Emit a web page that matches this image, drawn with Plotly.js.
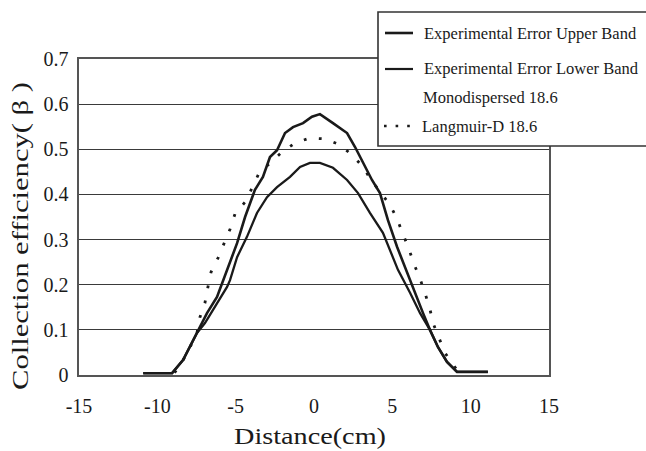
<!DOCTYPE html>
<html>
<head>
<meta charset="utf-8">
<script src="https://cdn.plot.ly/plotly-3.0.1.min.js"></script>
<style>
  html, body { margin: 0; padding: 0; background: #fff; }
  #chart { width: 646px; height: 451px; }
</style>
</head>
<body>
<div id="chart"></div>
<script>
// Collection efficiency across the collector (distance in cm)
const upperX = [-10.9, -9.06, -8.36, -7.47, -6.83, -6.19, -5.55, -4.91, -4.40, -3.77, -3.26, -2.81, -2.36, -1.85, -1.34, -0.70, -0.13, 0.38, 1.21, 2.11, 2.62, 3.13, 3.70, 4.21, 4.72, 5.30, 5.94, 6.45, 6.96, 7.40, 7.91, 8.49, 9.13, 11.1];
const upperY = [0.004, 0.004, 0.033, 0.093, 0.137, 0.173, 0.233, 0.292, 0.350, 0.410, 0.439, 0.483, 0.498, 0.536, 0.549, 0.558, 0.572, 0.578, 0.558, 0.536, 0.505, 0.470, 0.432, 0.403, 0.343, 0.284, 0.226, 0.182, 0.137, 0.100, 0.062, 0.029, 0.007, 0.007];

const lowerX = [-10.9, -9.06, -8.36, -7.47, -6.96, -6.32, -5.55, -5.36, -4.91, -4.28, -3.64, -3.00, -2.36, -1.53, -0.89, -0.26, 0.38, 1.21, 2.11, 2.81, 3.57, 4.40, 4.85, 5.36, 6.13, 6.77, 7.40, 7.91, 8.49, 9.13, 11.1];
const lowerY = [0.004, 0.004, 0.033, 0.093, 0.115, 0.151, 0.195, 0.210, 0.261, 0.306, 0.359, 0.394, 0.416, 0.439, 0.461, 0.470, 0.470, 0.459, 0.432, 0.403, 0.359, 0.315, 0.277, 0.233, 0.182, 0.137, 0.100, 0.062, 0.029, 0.007, 0.007];

const langX = [-8.9, -8.4, -7.91, -7.47, -7.28, -6.96, -6.77, -6.57, -6.13, -5.74, -5.36, -5.04, -4.40, -3.96, -3.51, -2.04, -1.21, -0.26, 0.70, 1.66, 2.43, 3.13, 3.64, 4.85, 5.30, 5.68, 6.06, 6.38, 6.77, 7.08, 7.40, 7.60, 7.98, 8.36, 8.94, 9.2];
const langY = [0.005, 0.030, 0.062, 0.093, 0.128, 0.160, 0.195, 0.228, 0.259, 0.292, 0.323, 0.357, 0.383, 0.414, 0.447, 0.494, 0.514, 0.525, 0.523, 0.510, 0.487, 0.461, 0.432, 0.377, 0.346, 0.312, 0.279, 0.246, 0.213, 0.182, 0.146, 0.115, 0.082, 0.049, 0.020, 0.008];

const legendLabels = [
  'Experimental Error Upper Band',
  'Experimental Error Lower Band',
  'Monodispersed 18.6',
  'Langmuir-D 18.6'
];

const xTicks = [-15, -10, -5, 0, 5, 10, 15];
const xTickText = ['-15', '-10', '-5', '0', '5', '10', '15'];
const yTicks = [0, 0.1, 0.2, 0.3, 0.4, 0.5, 0.6, 0.7];
const yTickText = ['0', '0.1', '0.2', '0.3', '0.4', '0.5', '0.6', '0.7'];

const W = 646, H = 451;
const M = { l: 79, r: 97, t: 59, b: 76 };
const PW = W - M.l - M.r, PH = H - M.t - M.b;
const px = v => (v - M.l) / PW;          // page pixel -> paper x
const py = v => (H - M.b - v) / PH;      // page pixel -> paper y

const SERIF = '"Liberation Serif", "Times New Roman", serif';
const INK = '#1a1a1a';

const traces = [
  { x: upperX, y: upperY, mode: 'lines', name: legendLabels[0],
    line: { color: INK, width: 2.6 } },
  { x: lowerX, y: lowerY, mode: 'lines', name: legendLabels[1],
    line: { color: INK, width: 2.3 } },
  { x: langX, y: langY, mode: 'lines', name: legendLabels[3],
    line: { color: INK, width: 2.8, dash: '2.8px,12.5px' } }
];

// Hand-built key box in the upper right, overlapping the plot frame
const rowY = [33, 69, 97, 126];
const shapes = [
  { type: 'rect', xref: 'paper', yref: 'paper', layer: 'above',
    x0: px(378), x1: px(662), y0: py(146), y1: py(12),
    fillcolor: '#fff', line: { color: '#333', width: 1.6 } },
  { type: 'line', xref: 'paper', yref: 'paper', layer: 'above',
    x0: px(385), x1: px(413), y0: py(rowY[0]), y1: py(rowY[0]),
    line: { color: INK, width: 2.6 } },
  { type: 'line', xref: 'paper', yref: 'paper', layer: 'above',
    x0: px(385), x1: px(413), y0: py(rowY[1]), y1: py(rowY[1]),
    line: { color: INK, width: 2.2 } },
  { type: 'line', xref: 'paper', yref: 'paper', layer: 'above',
    x0: px(384), x1: px(412), y0: py(rowY[3]), y1: py(rowY[3]),
    line: { color: INK, width: 2.6, dash: '2.6px,9px' } }
];
const textLeft = [422, 422, 421, 420];
const annotations = legendLabels.map((t, i) => ({
  text: t, xref: 'paper', yref: 'paper', x: px(textLeft[i]), y: py(rowY[i]),
  xanchor: 'left', yanchor: 'middle', showarrow: false,
  font: { family: SERIF, size: 16.5, color: INK }
}));

const layout = {
  width: W, height: H,
  margin: M,
  paper_bgcolor: '#fff', plot_bgcolor: '#fff',
  showlegend: false,
  font: { family: SERIF, color: INK },
  xaxis: {
    range: [-15, 15], tickmode: 'array', tickvals: xTicks, ticktext: xTickText, ticks: '',
    showgrid: false, zeroline: false,
    showline: true, mirror: true, linecolor: '#555', linewidth: 1.6,
    tickfont: { family: SERIF, size: 20, color: INK },
    ticklabelstandoff: 12,
    title: { text: 'Distance(cm)', font: { family: SERIF, size: 23, color: INK }, standoff: 12 }
  },
  yaxis: {
    range: [0, 0.7], tickmode: 'array', tickvals: yTicks, ticktext: yTickText, ticks: '',
    showgrid: true, gridcolor: '#3a3a3a', gridwidth: 1.2, zeroline: false,
    showline: true, mirror: true, linecolor: '#555', linewidth: 1.6,
    tickfont: { family: SERIF, size: 20, color: INK },
    ticklabelstandoff: 5,
    title: { text: 'Collection efficiency( β )', font: { family: SERIF, size: 23, color: INK }, standoff: 8 }
  },
  shapes: shapes,
  annotations: annotations
};

Plotly.newPlot('chart', traces, layout, { displayModeBar: false, staticPlot: true }).then(gd => {
  // widen the axis titles to the broad serif face used on the figure
  const stretch = (sel, len, shift) => {
    const t = gd.querySelector(sel);
    if (!t) return;
    t.setAttribute('textLength', len);
    t.setAttribute('lengthAdjust', 'spacingAndGlyphs');
    if (shift) t.setAttribute('transform', shift + ' ' + (t.getAttribute('transform') || ''));
  };
  stretch('.g-xtitle text', 152, 'translate(-4,0)');
  stretch('.g-ytitle text', 308, 'translate(0,19)');
});
</script>
</body>
</html>
